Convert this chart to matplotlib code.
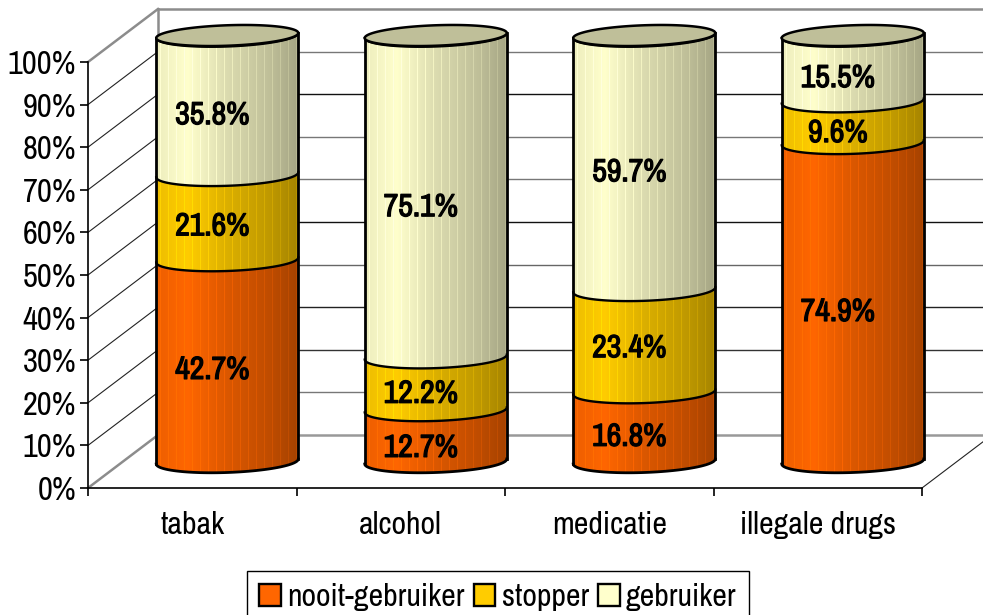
import numpy as np
import matplotlib
matplotlib.use('Agg')
import matplotlib.pyplot as plt
import matplotlib.patheffects as pe
from matplotlib import font_manager as fm
from matplotlib.patches import Polygon, Patch

# narrow font if the machine has it, otherwise plain Liberation at a smaller size
try:
    fm.findfont('Archivo Narrow', fallback_to_default=False)
    plt.rcParams['font.family'] = ['Archivo Narrow', 'Liberation Sans', 'DejaVu Sans']
    scale = 1.0
except ValueError:
    plt.rcParams['font.family'] = ['Liberation Sans', 'DejaVu Sans']
    scale = 0.82

categories = ['tabak', 'alcohol', 'medicatie', 'illegale drugs']
series = ['nooit-gebruiker', 'stopper', 'gebruiker']

# heights as drawn in the picture (tabak does not quite follow its labels)
nooit = [47.3, 12.1, 16.3, 74.8]
stopper = [20.0, 12.4, 24.0, 9.8]
gebruiker = [32.7, 75.5, 59.7, 15.4]

labels_nooit = ['42.7%', '12.7%', '16.8%', '74.9%']
labels_stopper = ['21.6%', '12.2%', '23.4%', '9.6%']
labels_gebruiker = ['35.8%', '75.1%', '59.7%', '15.5%']

# height of the label centres on the cylinder
pos_nooit = [21.5, 3.2, 5.8, 35.1]
pos_stopper = [55.2, 15.9, 26.6, 77.1]
pos_gebruiker = [81.3, 59.7, 67.9, 90.0]

colors = ['#FF6600', '#FFCC00', '#FFFFCC']
# back wall lines, 0% to 100%
wall_colors = ['#999999', '#777777', '#333333', '#222222', '#666666', '#111111',
               '#777777', '#777777', '#111111', '#777777', '#8C8C8C']

W, H = 983, 615
fig = plt.figure(figsize=(W / 100, H / 100), dpi=100)
ax = fig.add_axes([88 / W, (H - 488) / H, 834 / W, 426 / H])
ax.set_xlim(0, 4)
ax.set_ylim(0, 100)

# depth of the fake 3d box, in data units
dx = 70 / 208.5
dy = 53 / 4.26

# walls
levels = np.arange(0, 101, 10)
for lev, col in zip(levels, wall_colors):
    edge = lev in (0, 100)
    ax.plot([0, dx], [lev, lev + dy], color='#8C8C8C' if edge else '#222222',
            lw=1.8 if edge else 0.8, clip_on=False, zorder=1)
    ax.plot([dx, 4 + dx], [lev + dy, lev + dy], color=col, lw=1.8 if edge else 1.0,
            clip_on=False, zorder=1)
ax.plot([dx, dx], [dy, 100 + dy], color='#8C8C8C', lw=1.8, clip_on=False, zorder=1)
ax.plot([4, 4 + dx], [0, dy], color='#222222', lw=0.8, clip_on=False, zorder=1)

# cylinder geometry
a = 71 / 208.5
b = 11 / 4.26
s = 2.5 / 4.26
t_front = np.linspace(np.pi, 2 * np.pi, 80)


def front_arc(c, v):
    return c + a * np.cos(t_front), v + dy / 2 + b * np.sin(t_front) + s * np.cos(t_front)


def shaded(color):
    n = 142
    u = np.linspace(0, 1, n)
    shade = np.interp(u, [0, 0.22, 0.5, 0.8, 1], [0.93, 1.0, 0.86, 0.75, 0.65])
    # faint facet lines of the cylinder
    shade[np.arange(4, n, 8)] *= 1.1
    rgb = np.array(matplotlib.colors.to_rgb(color))
    strip = np.clip(shade[:, None] * rgb, 0, 1)
    return strip[None, :, :]


for i in range(len(categories)):
    c = i + 0.5 + dx / 2
    base = 0
    for vals, col in zip([nooit, stopper, gebruiker], colors):
        top = base + vals[i]
        x0, y0 = front_arc(c, base)
        x1, y1 = front_arc(c, top)
        px = np.concatenate([x0, x1[::-1]])
        py = np.concatenate([y0, y1[::-1]])
        clip = Polygon(np.column_stack([px, py]), closed=True, transform=ax.transData)
        im = ax.imshow(shaded(col), extent=(c - a, c + a, base - 10, top + dy + 10),
                       aspect='auto', zorder=3, interpolation='bilinear')
        im.set_clip_path(clip)
        im.set_clip_box(fig.bbox)
        ax.plot(x1, y1, color='black', lw=1.7, zorder=5, clip_on=False)
        if base == 0:
            ax.plot(x0, y0, color='black', lw=2.0, zorder=5, clip_on=False)
        base = top
    # top lid
    t = np.linspace(0, 2 * np.pi, 160)
    lx = c + a * np.cos(t)
    ly = base + dy / 2 + b * 0.93 * np.sin(t) + s * np.cos(t)
    ax.fill(lx, ly, facecolor='#BFBF99', edgecolor='black', lw=1.8, zorder=6, clip_on=False)
    # sides
    for side in (-1, 1):
        ax.plot([c + side * a, c + side * a],
                [dy / 2 + side * s, base + dy / 2 + side * s],
                color='black', lw=2.0, zorder=5, clip_on=False)

ax.set_xlim(0, 4)
ax.set_ylim(0, 100)

# data labels, the narrow font has no separate bold face so thicken it with a stroke
heavy = [pe.withStroke(linewidth=0.9, foreground='black')]
for i in range(len(categories)):
    c = i + 0.5 + dx / 2 - 15 / 208.5
    for txts, pos in zip([labels_nooit, labels_stopper, labels_gebruiker],
                         [pos_nooit, pos_stopper, pos_gebruiker]):
        ax.text(c, pos[i] + dy / 2, txts[i], ha='center', va='center', fontsize=23 * scale,
                fontweight='bold', color='black', zorder=8, path_effects=heavy)

# axes
for name in ('top', 'right'):
    ax.spines[name].set_visible(False)
for name in ('left', 'bottom'):
    ax.spines[name].set_linewidth(1.2)
    ax.spines[name].set_zorder(2)
ax.patch.set_visible(False)
ax.set_yticks(levels)
ax.set_yticklabels(['%d%%' % v for v in levels], fontsize=23.5 * scale)
ax.set_xticks(np.arange(5))
ax.set_xticklabels([])
ax.tick_params(axis='y', length=6, width=1.2, pad=2.5)
ax.tick_params(axis='x', length=6, width=1.2)
for i, name in enumerate(categories):
    ax.text(i + 0.5, -8.6, name, ha='center', va='center', fontsize=23 * scale)

handles = [Patch(facecolor=col, edgecolor='black', lw=1.7) for col in colors]
leg = fig.legend(handles, series, loc='upper left', bbox_to_anchor=(247 / W, (H - 571) / H),
                 bbox_transform=fig.transFigure, ncol=3, fontsize=23 * scale, fancybox=False,
                 framealpha=1, edgecolor='black', borderaxespad=0, borderpad=0.38,
                 handlelength=0.68, handleheight=0.68, handletextpad=0.2, columnspacing=0.28)
leg.get_frame().set_linewidth(1.0)

fig.savefig('out.png', dpi=100)
